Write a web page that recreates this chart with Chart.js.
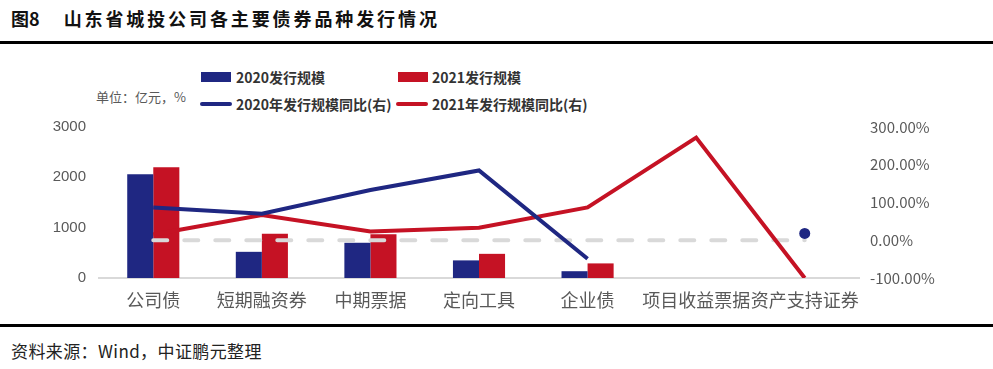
<!DOCTYPE html>
<html>
<head>
<meta charset="utf-8">
<script src="https://cdn.jsdelivr.net/npm/chart.js@4"></script>
<style>
  html,body{margin:0;padding:0;background:#fff;}
  body{width:993px;height:369px;position:relative;overflow:hidden;font-family:"Noto Sans CJK SC","Noto Sans",sans-serif;}
  .abs{position:absolute;white-space:nowrap;}
  #title{left:11px;top:5px;font-size:18px;font-weight:bold;color:#111;line-height:26px;}
  #title .t{margin-left:24px;letter-spacing:2.9px;}
  .rule{position:absolute;left:0;width:993px;height:3px;background:#000;}
  #source{left:11px;top:339px;font-size:17px;color:#222;line-height:24px;letter-spacing:0.4px;}
  .leg{font-size:14px;font-weight:bold;color:#333;line-height:18px;}
  .sw{position:absolute;width:30px;height:10px;}
  .ln{position:absolute;width:32px;height:4px;border-radius:2px;}
  #unit{left:96px;top:87px;font-size:13px;color:#595959;line-height:20px;}
  #wrap{position:absolute;left:0;top:105px;width:993px;height:215px;}
</style>
</head>
<body>
<div id="title" class="abs"><span>图8</span><span class="t">山东省城投公司各主要债券品种发行情况</span></div>
<div class="rule" style="top:41px;"></div>

<div id="unit" class="abs">单位：亿元，%</div>
<div class="sw" style="left:201px;top:72px;background:#1F2782;"></div>
<div class="abs leg" style="left:236px;top:68px;">2020发行规模</div>
<div class="sw" style="left:398px;top:72px;background:#C51224;"></div>
<div class="abs leg" style="left:432px;top:68px;">2021发行规模</div>
<div class="ln" style="left:200px;top:102px;background:#1F2782;"></div>
<div class="abs leg" style="left:236px;top:95px;">2020年发行规模同比(右)</div>
<div class="ln" style="left:396px;top:102px;background:#C51224;"></div>
<div class="abs leg" style="left:432px;top:95px;">2021年发行规模同比(右)</div>

<div id="wrap"><canvas id="c"></canvas></div>

<div class="rule" style="top:324px;"></div>
<div id="source" class="abs">资料来源：Wind，中证鹏元整理</div>

<script>
const categories = ["公司债","短期融资券","中期票据","定向工具","企业债","项目收益票据","资产支持证券"];
const issue2020 = [2060, 520, 700, 350, 135, 0, 0];
const issue2021 = [2200, 880, 870, 480, 290, 0, 0];
const yoy2020 = [87, 70, 133, 185, -49, null, 18];
const yoy2021 = [15, 67, 23, 33, 87, 272, -100];
const zeroLine = [0, 0, 0, 0, 0, 0, 0];
const leftTicks = [0, 1000, 2000, 3000];
const rightTicks = [-100, 0, 100, 200, 300];

const BLUE = "#1F2782", RED = "#C51224";
const tickFont = {family: "Liberation Sans, Arial, sans-serif", size: 15};

new Chart(document.getElementById("c"), {
  data: {
    labels: categories,
    datasets: [
      {type:"bar", label:"2020发行规模", data: issue2020, backgroundColor: BLUE, yAxisID:"y", order:3,
       categoryPercentage:0.48, barPercentage:1.0},
      {type:"bar", label:"2021发行规模", data: issue2021, backgroundColor: RED, yAxisID:"y", order:3,
       categoryPercentage:0.48, barPercentage:1.0},
      {type:"line", label:"zero", data: zeroLine, borderColor:"#D9D9D9", borderWidth:4, borderDash:[14,17],
       borderCapStyle:"round", pointRadius:0, yAxisID:"y1", order:2},
      {type:"line", label:"2020年发行规模同比(右)", data: yoy2020, borderColor: BLUE, backgroundColor: BLUE, borderWidth:4,
       pointRadius:[0,0,0,0,0,0,5.5], pointBorderWidth:0, yAxisID:"y1", order:1, spanGaps:false, tension:0},
      {type:"line", label:"2021年发行规模同比(右)", data: yoy2021, borderColor: RED, backgroundColor: RED, borderWidth:4,
       pointRadius:0, yAxisID:"y1", order:1, tension:0}
    ]
  },
  options: {
    responsive:true, maintainAspectRatio:false, animation:false,
    layout:{padding:{top:18, left:0, right:0, bottom:0}},
    plugins:{legend:{display:false}, tooltip:{enabled:false}},
    scales:{
      x:{
        offset:true,
        grid:{display:false, drawTicks:false},
        border:{display:true, color:"#D9D9D9", width:2},
        ticks:{color:"#595959", font:{family:"Noto Sans CJK SC", size:18}, padding:11,
               autoSkip:false, maxRotation:0, minRotation:0},
        afterFit(s){ s.height = 42; }
      },
      y:{
        position:"left", min:0, max:3000,
        afterBuildTicks(s){ s.ticks = leftTicks.map(v=>({value:v})); },
        grid:{display:false, drawTicks:false},
        border:{display:false},
        ticks:{color:"#595959", font:tickFont, padding:13, callback:(v)=> String(v)},
        afterFit(s){ s.width = 99; }
      },
      y1:{
        position:"right", min:-100, max:300,
        afterBuildTicks(s){ s.ticks = rightTicks.map(v=>({value:v})); },
        grid:{display:false, drawTicks:false},
        border:{display:false},
        ticks:{color:"#595959", font:{family:"Noto Sans CJK SC", size:15}, padding:11,
               callback:(v)=> v.toFixed(2)+"%"},
        afterFit(s){ s.width = 134; }
      }
    }
  }
});
</script>
</body>
</html>
